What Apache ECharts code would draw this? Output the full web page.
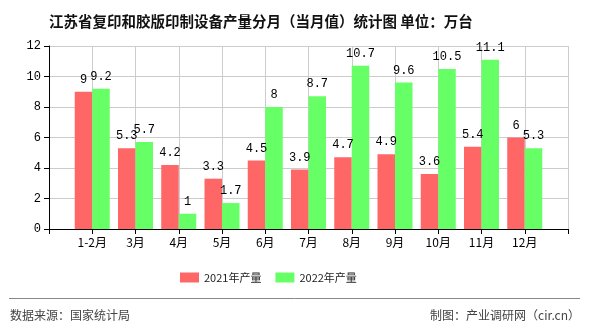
<!DOCTYPE html>
<html><head><meta charset="utf-8">
<script src="https://cdn.jsdelivr.net/npm/echarts@6/dist/echarts.min.js"></script>
<style>html,body{margin:0;padding:0;background:#fff}#c{width:590px;height:330px}</style>
</head><body><div id="c"></div>
<script>
var categories = ['1-2月','3月','4月','5月','6月','7月','8月','9月','10月','11月','12月'];
var values2021 = [9, 5.3, 4.2, 3.3, 4.5, 3.9, 4.7, 4.9, 3.6, 5.4, 6];
var values2022 = [9.2, 5.7, 1, 1.7, 8, 8.7, 10.7, 9.6, 10.5, 11.1, 5.3];
var yTicks = [0, 2, 4, 6, 8, 10, 12];

var cats = [''].concat(categories).concat(['']);
var d1 = [null].concat(values2021).concat([null]);
var d2 = [null].concat(values2022).concat([null]);
var mono = '"Liberation Mono","DejaVu Sans Mono",monospace';
var chart = echarts.init(document.getElementById('c'));
chart.setOption({
  animation: false,
  backgroundColor: '#fff',
  title: {
    text: '江苏省复印和胶版印制设备产量分月（当月值）统计图 单位：万台',
    left: 44, top: 9,
    textStyle: {fontSize: 14.5, fontWeight: 'bold', color: '#111', fontFamily: '"Noto Sans CJK SC"'}
  },
  legend: {
    top: 267, left: 175, itemWidth: 19, itemHeight: 10, itemGap: 14,
    textStyle: {fontSize: 11, color: '#222', fontFamily: '"Noto Sans CJK SC"'},
    icon: 'rect',
    data: ['2021年产量', '2022年产量']
  },
  grid: {left: 49, right: 22, top: 46, bottom: 101},
  xAxis: {
    type: 'category', data: cats, boundaryGap: false,
    axisLine: {lineStyle: {color: '#000'}},
    axisTick: {show: true, length: 5, lineStyle: {color: '#000'}},
    axisLabel: {color: '#000', fontSize: 12, fontFamily: '"Noto Sans CJK SC"', margin: 7, interval: 0},
    splitLine: {show: true, lineStyle: {color: '#ccc'}}
  },
  yAxis: {
    type: 'value', min: yTicks[0], max: yTicks[yTicks.length-1], interval: 2,
    axisLine: {show: true, lineStyle: {color: '#000'}},
    axisTick: {show: true, length: 5, lineStyle: {color: '#000'}},
    axisLabel: {color: '#000', fontSize: 12, fontFamily: mono, margin: 8},
    splitLine: {lineStyle: {color: '#ccc'}}
  },
  series: [
    {name: '2021年产量', type: 'bar', data: d1, barWidth: 17.5, barGap: '0%',
     itemStyle: {color: '#FF6666'},
     label: {show: true, position: 'top', color: '#000', fontSize: 12, fontFamily: mono, distance: 6}},
    {name: '2022年产量', type: 'bar', data: d2, barWidth: 17.5,
     itemStyle: {color: '#66FF66'},
     label: {show: true, position: 'top', color: '#000', fontSize: 12, fontFamily: mono, distance: 6}}
  ],
  graphic: [
    {type: 'line', shape: {x1: 9, y1: 298.5, x2: 580, y2: 298.5}, style: {stroke: '#888', lineWidth: 1}},
    {type: 'text', left: 10, top: 309, style: {text: '数据来源：国家统计局', fill: '#444', font: '12px "Noto Sans CJK SC"'}},
    {type: 'text', right: 10, top: 309, style: {text: '制图：产业调研网（cir.cn）', fill: '#444', font: '12px "Noto Sans CJK SC"'}}
  ]
});
</script></body></html>
